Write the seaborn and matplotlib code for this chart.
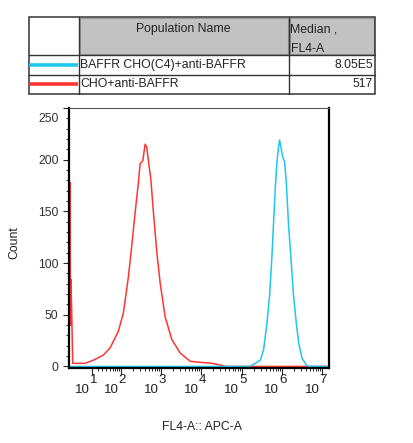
import numpy as np
import pandas as pd
import matplotlib
matplotlib.use("Agg")
import matplotlib.pyplot as plt
import matplotlib.transforms as mtrans
from matplotlib.patches import Rectangle
import seaborn as sns

sns.set_style("ticks")
plt.rcParams['font.family'] = ['Liberation Sans', 'DejaVu Sans']

# data
red_name = "CHO+anti-BAFFR"
red_x = [-29.9, -28, -26.5, -25.5, -22, -1, 12, 32, 51, 85, 115, 154, 187, 227, 274,
         302, 353, 402, 444, 486, 559, 648, 788, 951, 1266, 1858, 2990, 5300, 9400,
         18400, 32600, 40000, 1.49e7]
red_y = [0, 178, 40, 84, 3, 3, 6, 11, 18, 34, 52, 87, 117, 149, 178,
         196, 199, 215, 212, 199, 181, 149, 110, 81, 48, 26, 13, 5, 4,
         3, 1, 0, 0]
blue_name = "BAFFR CHO(C4)+anti-BAFFR"
blue_x = [-30, 160000, 219000, 292000, 353000, 428000, 497000, 570000, 625000, 689000,
          759000, 833000, 882000, 955000, 1.047e6, 1.174e6, 1.295e6, 1.477e6, 1.694e6,
          1.966e6, 2.295e6, 2.617e6, 3.18e6, 4.065e6, 4.56e6, 1.49e7]
blue_y = [0, 0, 3, 6, 16, 42, 68, 107, 139, 172,
          198, 212, 219, 212, 203, 198, 178, 136, 104,
          68, 42, 23, 8, 1.5, 0, 0]
medians = {blue_name: "8.05E5", red_name: "517"}
decades = [1, 2, 3, 4, 5, 6, 7]
yticks = [0, 50, 100, 150, 200]

RED = "#ff3434"
BLUE = "#1ec6f0"
TXT = "#222222"

df_red = pd.DataFrame({"x": red_x, "y": red_y})
df_blue = pd.DataFrame({"x": blue_x, "y": blue_y})

C = 27.0
def fwd(v):
    return np.arcsinh(np.asarray(v, dtype=float) / C)
def inv(v):
    return C * np.sinh(np.asarray(v, dtype=float))

fig = plt.figure(figsize=(4.13, 4.43), dpi=100)

# table / legend panel drawn in pixel coordinates
tab = fig.add_axes([0, 0, 1, 1])
tab.set_xlim(0, 413)
tab.set_ylim(443, 0)
tab.axis('off')

tab.add_patch(Rectangle((80, 18), 208, 36, facecolor="#c2c2c2", edgecolor="#9a9a9a", lw=0.8))
tab.add_patch(Rectangle((290, 18), 84, 36, facecolor="#c2c2c2", edgecolor="#9a9a9a", lw=0.8))
tab.add_patch(Rectangle((29, 17), 346, 77, fill=False, edgecolor="#333333", lw=1.1))
for xx in [79, 289]:
    tab.plot([xx, xx], [17, 94], color="#333333", lw=1.0)
for yy in [55, 75]:
    tab.plot([29, 375], [yy, yy], color="#333333", lw=1.0)

fs = 8.8
tab.text(183, 29, "Population Name", ha='center', va='center', fontsize=fs, color=TXT)
tab.text(290, 29, "Median ,", ha='left', va='center', fontsize=fs, color=TXT)
tab.text(291, 49, "FL4-A", ha='left', va='center', fontsize=fs, color=TXT)
for yy, name, col in [(65, blue_name, BLUE), (84, red_name, RED)]:
    tab.plot([29, 78], [yy, yy], color=col, lw=2.6, solid_capstyle='butt')
    tab.text(80, yy, name, ha='left', va='center', fontsize=fs, color=TXT)
    tab.text(373, yy, medians[name], ha='right', va='center', fontsize=fs, color=TXT)

tab.text(14, 243, "Count", rotation=90, ha='center', va='center', fontsize=fs, color=TXT)
tab.text(202, 427, "FL4-A:: APC-A", ha='center', va='center', fontsize=fs, color=TXT)

# histogram panel
ax = fig.add_axes([69 / 413, (443 - 368) / 443, 260 / 413, 260 / 443])
ax.set_xscale('function', functions=(fwd, inv))
sns.lineplot(data=df_red, x="x", y="y", color=RED, lw=1.1, estimator=None, sort=False, ax=ax)
sns.lineplot(data=df_blue, x="x", y="y", color=BLUE, lw=1.1, estimator=None, sort=False, ax=ax)
ax.set_xlim(-30, 1.49e7)
ax.set_ylim(-1.5, 250)
ax.set_xlabel("")
ax.set_ylabel("")

for side in ['left', 'bottom', 'right']:
    ax.spines[side].set_color('black')
    ax.spines[side].set_linewidth(1.6)
ax.spines['top'].set_color('#555555')
ax.spines['top'].set_linewidth(0.8)

major_x = [10.0 ** d for d in decades]
minor_x = [k * 10.0 ** d for d in decades[:-1] for k in range(2, 10)]
ax.set_xticks(major_x)
ax.set_xticklabels([''] * len(major_x))
ax.set_xticks(minor_x, minor=True)
ax.tick_params(axis='x', which='major', length=5, width=0.8, direction='out')
ax.tick_params(axis='x', which='minor', length=2.5, width=0.7, direction='out')

ax.set_yticks(yticks + [250])
ax.set_yticklabels([str(t) for t in yticks] + [''], fontsize=fs, color="#333333")
ax.set_yticks(np.arange(0, 251, 10), minor=True)
ax.tick_params(axis='y', which='major', length=4, width=0.8, pad=3.5, direction='out')
ax.tick_params(axis='y', which='minor', length=2, width=0.7, direction='out')

# top y label sits below its tick, as in the source
tr = mtrans.blended_transform_factory(ax.transAxes, ax.transData)
ax.text(0, 250, "250", ha='right', va='center', fontsize=fs, color="#333333",
        transform=tr + mtrans.ScaledTranslation(-7.4 / 72, -8 / 72, fig.dpi_scale_trans))

# x tick labels: "10" with a full-size exponent above the tick
trx = mtrans.blended_transform_factory(ax.transData, ax.transAxes)
for d, xv in zip(decades, major_x):
    ax.text(xv, 0, "10", ha='right', va='center', fontsize=9.6, color=TXT,
            transform=trx + mtrans.ScaledTranslation(-1.8 / 72, -16 / 72, fig.dpi_scale_trans))
    ax.text(xv, 0, str(d), ha='center', va='center', fontsize=9.6, color=TXT,
            transform=trx + mtrans.ScaledTranslation(1.0 / 72, -8.8 / 72, fig.dpi_scale_trans))

fig.savefig("out.png", dpi=100)
